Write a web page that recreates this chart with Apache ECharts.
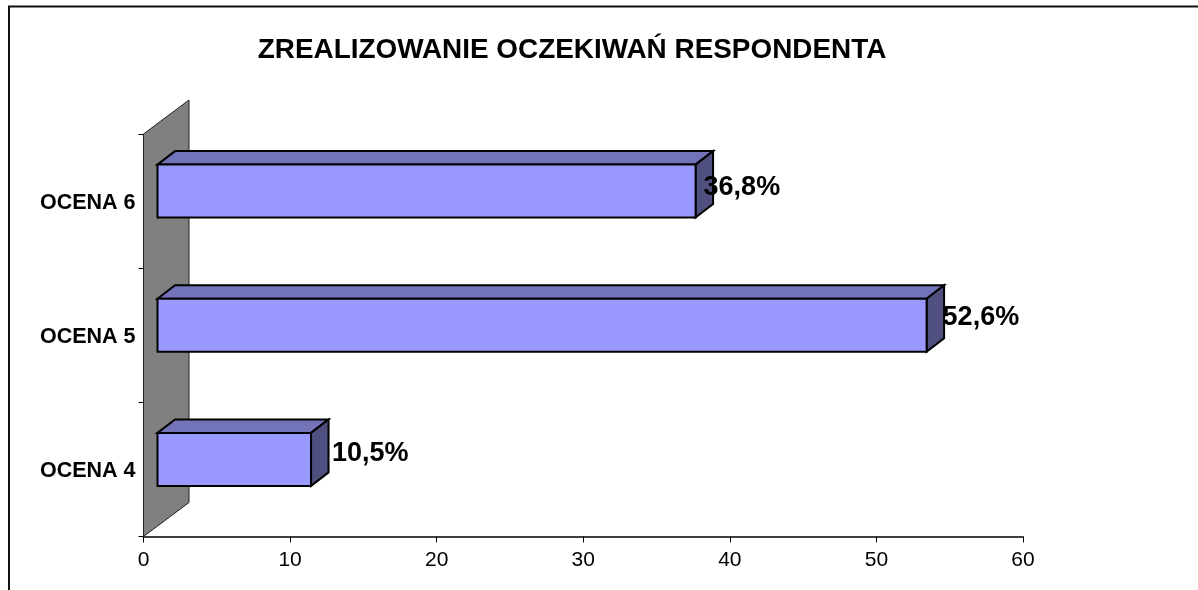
<!DOCTYPE html>
<html><head><meta charset="utf-8">
<style>html,body{margin:0;padding:0;background:#fff}#c{width:1198px;height:590px}</style>
<script src="https://cdn.jsdelivr.net/npm/echarts@6/dist/echarts.min.js"></script>
</head><body><div id="c"></div>
<script>
const titleText = 'ZREALIZOWANIE OCZEKIWAŃ RESPONDENTA';
const categories = ['OCENA 4', 'OCENA 5', 'OCENA 6'];
const values = [10.5, 52.6, 36.8];
const labels = ['10,5%', '52,6%', '36,8%'];
const xTicks = [0, 10, 20, 30, 40, 50, 60];

const DEPTH_X = 17.5, DEPTH_Y = 13.5, FRONT_X = 14, FRONT_UP = 10, BAR_H = 53;
const WALL_X = 45.5, WALL_Y = 34;
const labelNudge = [[21, -6], [16, -8], [8, -4]];
const font = 'Arial, "Liberation Sans", sans-serif';

const chart = echarts.init(document.getElementById('c'), null, {renderer: 'canvas'});
const line = {stroke: '#000', lineWidth: 2, lineJoin: 'miter'};

function renderWall(params, api) {
  const a = api.coord([0, 2]);
  const top = params.coordSys.y, bottom = params.coordSys.y + params.coordSys.height, x = a[0];
  return {type: 'polygon', silent: true,
    shape: {points: [[x, top], [x + WALL_X, top - WALL_Y], [x + WALL_X, bottom - WALL_Y], [x, bottom]]},
    style: {fill: '#808080', stroke: '#222', lineWidth: 1}};
}
function renderBar(params, api) {
  const i = api.value(0), v = api.value(1);
  const p0 = api.coord([0, i]);
  const w = api.size([v, 0])[0] * 0.9975;
  const l = p0[0] + FRONT_X, r = l + w;
  const b = p0[1] - FRONT_UP + BAR_H / 2, t = b - BAR_H;
  const n = labelNudge[i];
  return {type: 'group', children: [
    {type: 'polygon', shape: {points: [[l, t], [l + DEPTH_X, t - DEPTH_Y], [r + DEPTH_X, t - DEPTH_Y], [r, t]]},
      style: Object.assign({fill: '#7373BA'}, line)},
    {type: 'polygon', shape: {points: [[r, t], [r + DEPTH_X, t - DEPTH_Y], [r + DEPTH_X, b - DEPTH_Y], [r, b]]},
      style: Object.assign({fill: '#4F4F80'}, line)},
    {type: 'rect', shape: {x: l, y: t, width: w, height: BAR_H},
      style: Object.assign({fill: '#9999FF'}, line)},
    {type: 'text', x: r + n[0], y: (t + b) / 2 + n[1], z2: 10,
      style: {text: labels[i], fill: '#000', font: 'bold 27px ' + font, textAlign: 'left', textVerticalAlign: 'middle'}}
  ]};
}
chart.setOption({
  animation: false,
  backgroundColor: '#fff',
  title: {text: titleText, left: 567, top: 31, textAlign: 'center',
    textStyle: {fontFamily: font, fontWeight: 'bold', fontSize: 27.9, color: '#000'}},
  grid: {left: 143.5, top: 134, width: 879.5, height: 402.5, containLabel: false},
  xAxis: {type: 'value', min: xTicks[0], max: xTicks[xTicks.length - 1], interval: 10,
    axisLine: {show: true, onZero: false, lineStyle: {color: '#000', width: 1.5}},
    axisTick: {show: true, length: 6, lineStyle: {color: '#000', width: 1}},
    splitLine: {show: false},
    axisLabel: {color: '#000', fontFamily: font, fontSize: 21, margin: 13}},
  yAxis: {type: 'category', data: categories,
    axisLine: {show: false},
    axisTick: {show: true, length: 5, alignWithLabel: false, lineStyle: {color: '#000', width: 1}},
    axisLabel: {margin: 8, formatter: '{a|{value}}',
      rich: {a: {color: '#000', fontFamily: font, fontSize: 21.5, fontWeight: 'bold', padding: [4, 0, 0, 0]}}}},
  series: [
    {type: 'custom', renderItem: renderWall, data: [[0, 2]], encode: {x: 0, y: 1}, z: 1, clip: false, silent: true},
    {type: 'custom', renderItem: renderBar, data: values.map((v, i) => [i, v]), encode: {x: 1, y: 0}, z: 2, clip: false, silent: true}
  ],
  graphic: [{type: 'polyline', silent: true, z: 0,
    shape: {points: [[9, 590], [9, 6.5], [1198, 6.5]]},
    style: {fill: null, stroke: '#111', lineWidth: 2}}]
});
</script></body></html>
